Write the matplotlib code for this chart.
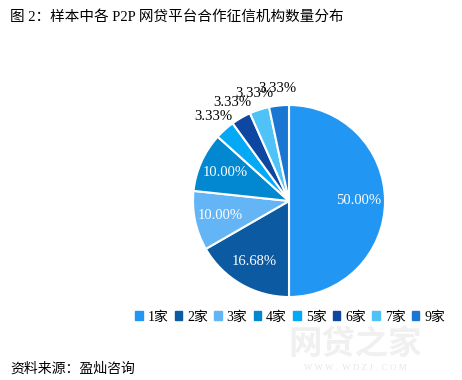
import matplotlib
matplotlib.use("Agg")
import matplotlib.pyplot as plt
import numpy as np

plt.rcParams['font.family'] = ['Liberation Serif', 'Noto Sans CJK SC', 'DejaVu Sans']

labels = ['1家', '2家', '3家', '4家', '5家', '6家', '7家', '9家']
values = [50.00, 16.68, 10.00, 10.00, 3.33, 3.33, 3.33, 3.33]
colors = ['#2196F3', '#0B5AA2', '#64B5F6', '#0288D1', '#03A9F4', '#0D47A1', '#4FC3F7', '#1976D2']

title = '图 2：样本中各 P2P 网贷平台合作征信机构数量分布'
source = '资料来源：盈灿咨询'

W, H = 462, 380
fig = plt.figure(figsize=(W / 100, H / 100), dpi=100)

# pie axes: center (289, 201) px, radius 96 px
cx, cy, r = 289, 201, 96
ax = fig.add_axes([(cx - r) / W, (H - cy - r) / H, 2 * r / W, 2 * r / H])
wedges, _ = ax.pie(values, colors=colors, startangle=90, counterclock=False,
                   wedgeprops=dict(edgecolor='white', linewidth=1.5))
ax.set_xlim(-1, 1)
ax.set_ylim(-1, 1)
ax.set_aspect('equal')
ax.axis('off')

for w, v in zip(wedges, values):
    ang = np.deg2rad((w.theta1 + w.theta2) / 2)
    if v > 5:
        d, col = 0.73, 'white'
    else:
        d, col = 1.18, 'black'
    ax.text(d * np.cos(ang), d * np.sin(ang), f'{v:.2f}%', ha='center', va='center',
            color=col, fontsize=10.5)

fig.text(10 / W, 1 - 17 / H, title, fontsize=10.5, ha='left', va='center')
fig.text(10 / W, 1 - 369 / H, source, fontsize=10, ha='left', va='center')

# watermark
fig.text(355 / W, 1 - 345 / H, '网贷之家', fontsize=24, color='#f0f0f0', ha='center',
         va='center', fontweight='bold', zorder=0)
fig.text(355 / W, 1 - 368 / H, 'W W W .  W D Z J .  C O M', fontsize=6.5, color='#e6e6e6',
         ha='center', va='center', zorder=0)

handles = [plt.Rectangle((0, 0), 1, 1, color=c) for c in colors]
fig.legend(handles, labels, loc='center', bbox_to_anchor=(290 / W, 1 - 317 / H), ncol=8,
           frameon=False, fontsize=10, handlelength=0.55, handleheight=0.55,
           handletextpad=0.35, columnspacing=0.45, borderpad=0)

fig.savefig('out.png', dpi=100)
